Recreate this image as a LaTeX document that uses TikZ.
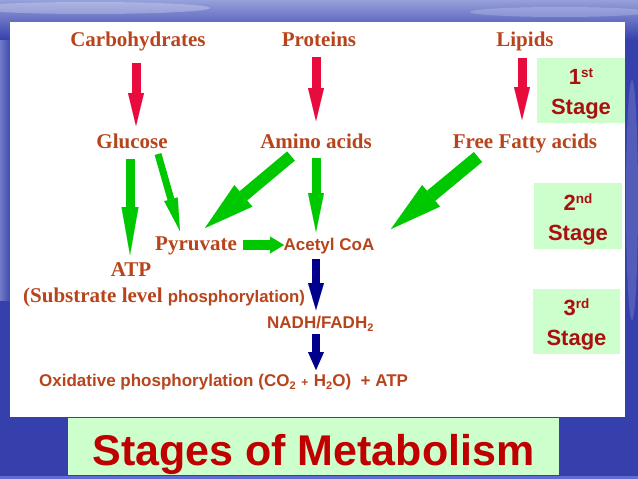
\documentclass[tikz,border=0pt]{standalone}
\usepackage{fontspec}
\setmainfont{Liberation Serif}
\newfontfamily\sansf{Liberation Sans}
\usetikzlibrary{arrows.meta,calc}
\definecolor{brn}{RGB}{184,68,28}
\definecolor{crim}{RGB}{232,12,62}
\definecolor{grn}{RGB}{0,200,0}
\definecolor{navyb}{RGB}{0,0,140}
\definecolor{lgreen}{RGB}{204,255,204}
\definecolor{dred}{RGB}{170,16,16}
\definecolor{tred}{RGB}{192,0,0}
\definecolor{bgblue}{RGB}{54,64,172}
\definecolor{bglight}{RGB}{150,160,218}
\definecolor{bgline}{RGB}{96,108,210}
\newcommand\supx[1]{\raisebox{7pt}{\fontsize{13.5}{13.5}\selectfont #1}}
\newcommand\subx[1]{\raisebox{-3pt}{\fontsize{11}{11}\selectfont #1}}
\begin{document}
\begin{tikzpicture}[x=1pt,y=-1pt,
  lbl/.style={inner sep=0pt, anchor=base, text=brn, font=\fontsize{21}{21}\selectfont\bfseries},
  slbl/.style={inner sep=0pt, text=brn, font=\fontsize{17}{17}\selectfont\sansf\bfseries},
  fat/.style n args={4}{draw=#1, line width=#2, -{Triangle[length=#3,width=#4,line width=0.01pt]}},
  stagebox/.style={fill=lgreen, inner sep=0pt, minimum width=88pt, minimum height=65pt, align=center,
     text=dred, font=\fontsize{22}{30}\selectfont\sansf\bfseries}
]
\useasboundingbox (0,0) rectangle (638,479);
% background
\fill[bgblue] (0,0) rectangle (638,479);
\shade[top color=bglight, bottom color=bgblue] (0,0) rectangle (638,40);
\shade[left color=bglight!60!bgblue, right color=bgblue] (0,40) rectangle (12,300);
\fill[white, opacity=0.25] (90,8) ellipse (120 and 6);
\fill[white, opacity=0.2] (560,12) ellipse (90 and 5);
\fill[white, opacity=0.15] (632,200) ellipse (6 and 120);
\fill[bgline] (0,476) rectangle (638,479);
% white panel
\fill[white] (10,22) rectangle (625,417);
% title
\node[fill=lgreen, inner sep=0pt, minimum width=491pt, minimum height=57pt, text height=40pt, text depth=3pt,
      text=tred, font=\fontsize{43}{43}\selectfont\sansf\bfseries] (title) at (313.5,446.5) {Stages of Metabolism};
% stage boxes
\node[stagebox] (s1) at (581,90.5) {\rule{0pt}{23pt}1\supx{st}\\Stage\rule[-5pt]{0pt}{5pt}};
\node[stagebox, minimum width=88pt, minimum height=66pt] (s2) at (578,216) {\rule{0pt}{23pt}2\supx{nd}\\Stage\rule[-5pt]{0pt}{5pt}};
\node[stagebox, minimum width=87pt] (s3) at (576.5,321.5) {\rule{0pt}{23pt}3\supx{rd}\\Stage\rule[-5pt]{0pt}{5pt}};
% labels
\node[lbl] (carb) at (138,46) {Carbohydrates};
\node[lbl] (prot) at (319,46) {Proteins};
\node[lbl] (lip) at (525,46) {Lipids};
\node[lbl] (gluc) at (132,148) {Glucose};
\node[lbl] (amino) at (316,148) {Amino acids};
\node[lbl] (ffa) at (525,148) {Free Fatty acids};
\node[lbl] (pyr) at (196,250) {Pyruvate};
\node[slbl, anchor=base] (acoa) at (329,250) {Acetyl CoA};
\node[lbl] (atp) at (131,276) {ATP};
\node[lbl, anchor=base west] (sub) at (23,302) {(Substrate level {\sansf\fontsize{16.8}{16.8}\selectfont phosphorylation)}};
\node[slbl, anchor=base west] (nadh) at (267,328) {NADH/FADH\subx{2}};
\node[slbl, anchor=base west] (oxi) at (39,386) {Oxidative phosphorylation (CO\subx{2}\,\,{\fontsize{12}{12}\selectfont +}\,\,H\subx{2}O)\ \ + ATP};
% red arrows
\draw[fat={crim}{9pt}{33pt}{16pt}] ($(carb.base)+(-2,17)$) -- ($(gluc.base)+(4,-22)$);
\draw[fat={crim}{9pt}{33pt}{16pt}] ($(prot.base)+(-3,11)$) -- ($(amino.base)+(0,-27)$);
\draw[fat={crim}{9pt}{33pt}{16pt}] ($(lip.base)+(-3,12)$) -- ($(ffa.base)+(-3,-28)$);
% green arrows
\draw[fat={grn}{9pt}{48pt}{17pt}] ($(gluc.base)+(-2,11)$) -- ($(atp.base)+(-1,-21)$);
\draw[fat={grn}{7pt}{33pt}{14pt}] ($(gluc.base)+(26,6)$) -- ($(pyr.base)+(-16,-19)$);
\draw[fat={grn}{12pt}{50pt}{28pt}] ($(amino.base)+(-25,8)$) -- ($(pyr.base)+(9,-22)$);
\draw[fat={grn}{9pt}{39pt}{16pt}] ($(amino.base)+(0,10)$) -- ($(acoa.base)+(-13,-18)$);
\draw[fat={grn}{13pt}{52pt}{28pt}] ($(ffa.base)+(-47,9)$) -- ($(acoa.base)+(62,-21)$);
\draw[fat={grn}{10pt}{14pt}{17pt}] ($(pyr.base)+(47,-5)$) -- ($(acoa.base)+(-45,-5)$);
% blue arrows
\draw[fat={navyb}{8pt}{27pt}{16pt}] ($(acoa.base)+(-13,9)$) -- ($(nadh.base west)+(49,-18)$);
\draw[fat={navyb}{8pt}{18pt}{16pt}] ($(nadh.base west)+(49,6)$) -- ($(oxi.base west)+(277,-16)$);
\end{tikzpicture}
\end{document}
